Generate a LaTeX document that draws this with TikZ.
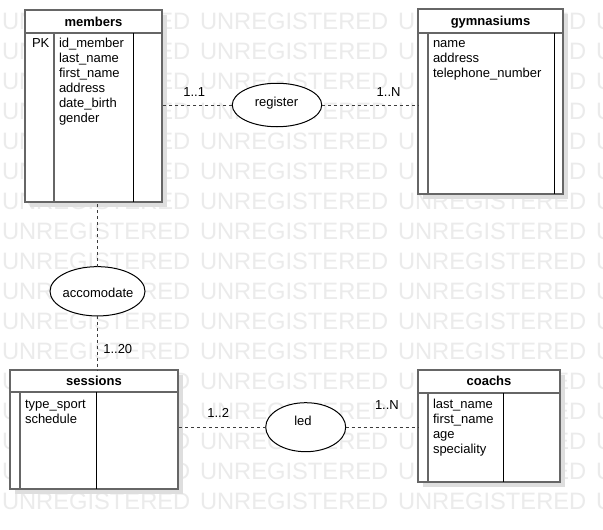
\documentclass[tikz,border=0pt]{standalone}
\usepackage{fontspec}
\setmainfont{Liberation Sans}
\usetikzlibrary{shapes.geometric,shadows}
\definecolor{wm}{RGB}{235,235,235}
\definecolor{bord}{RGB}{102,102,102}
\definecolor{shad}{RGB}{222,222,222}
\definecolor{relc}{RGB}{60,60,60}
\begin{document}
\begin{tikzpicture}[x=1pt,y=-1pt,
  every node/.style={inner sep=0pt, outer sep=0pt, font=\fontsize{13}{15}\selectfont},
  wmtext/.style={anchor=base west, text=wm, font=\fontsize{23.7}{26}\selectfont},
  entity/.style={rectangle, draw=bord, line width=2pt, fill=white, anchor=north west,
    drop shadow={shadow xshift=5pt, shadow yshift=-5pt, fill=shad, opacity=1}},
  hdr/.style={anchor=base, font=\fontsize{13}{15}\selectfont\bfseries},
  fields/.style={anchor=base west},
  sepline/.style={draw=bord, line width=2pt},
  keyline/.style={draw=bord, line width=1.5pt},
  colline/.style={draw=black, line width=1pt},
  relation/.style={ellipse, draw=black, line width=1pt, fill=white},
  rellabel/.style={anchor=base},
  card/.style={anchor=base west},
  rel/.style={draw=relc, line width=1pt, dash pattern=on 3pt off 3pt}
]
\useasboundingbox (0,0) rectangle (603,530);
\fill[white] (0,0) rectangle (603,530);

% watermark
\foreach \r in {0,...,16}{
  \foreach \c in {0,...,3}{
    \node[wmtext] (wm-\r-\c) at ({2+198*\c},{29.5+30*\r}) {UNREGISTERED};
  }
}

% members
\node[entity, minimum width=137pt, minimum height=192pt] (members) at (25,10) {};
\draw[sepline] ([yshift=-23pt]members.north west) -- ([yshift=-23pt]members.north east);
\draw[keyline] ([xshift=29pt,yshift=-23pt]members.north west) -- ([xshift=29pt]members.south west);
\draw[colline] ([xshift=108pt,yshift=-23pt]members.north west) -- ([xshift=108pt]members.south west);
\node[hdr] (membersH) at (93.5,26) {members};
\node[fields] (membersK) at (32,47.5) {PK};
\node[fields] (membersF) at (59,47.5) {\parbox[t]{5cm}{id\_member\\last\_name\\first\_name\\address\\date\_birth\\gender}};

% gymnasiums
\node[entity, minimum width=145pt, minimum height=185pt] (gym) at (418,9) {};
\draw[sepline] ([yshift=-24pt]gym.north west) -- ([yshift=-24pt]gym.north east);
\draw[keyline] ([xshift=10pt,yshift=-24pt]gym.north west) -- ([xshift=10pt]gym.south west);
\draw[colline] ([xshift=136pt,yshift=-24pt]gym.north west) -- ([xshift=136pt]gym.south west);
\node[hdr] (gymH) at (490.5,25.5) {gymnasiums};
\node[fields] (gymF) at (433,47) {\parbox[t]{5cm}{name\\address\\telephone\_number}};

% sessions
\node[entity, minimum width=168pt, minimum height=119pt] (sessions) at (10,370) {};
\draw[sepline] ([yshift=-22pt]sessions.north west) -- ([yshift=-22pt]sessions.north east);
\draw[keyline] ([xshift=10pt,yshift=-22pt]sessions.north west) -- ([xshift=10pt]sessions.south west);
\draw[colline] ([xshift=86pt,yshift=-22pt]sessions.north west) -- ([xshift=86pt]sessions.south west);
\node[hdr] (sessionsH) at (94,385) {sessions};
\node[fields] (sessionsF) at (25,408) {\parbox[t]{5cm}{type\_sport\\schedule}};

% coachs
\node[entity, minimum width=142pt, minimum height=112pt] (coachs) at (418,370) {};
\draw[sepline] ([yshift=-23pt]coachs.north west) -- ([yshift=-23pt]coachs.north east);
\draw[keyline] ([xshift=10pt,yshift=-23pt]coachs.north west) -- ([xshift=10pt]coachs.south west);
\draw[colline] ([xshift=85pt,yshift=-23pt]coachs.north west) -- ([xshift=85pt]coachs.south west);
\node[hdr] (coachsH) at (489,385) {coachs};
\node[fields] (coachsF) at (433,408) {\parbox[t]{5cm}{last\_name\\first\_name\\age\\speciality}};

% relations
\node[relation, minimum width=89.5pt, minimum height=43.5pt] (register) at (277,105) {};
\node[rellabel] (registerT) at (276.5,106) {register};
\node[relation, minimum width=95pt, minimum height=49.3pt] (accomodate) at (97.5,291.3) {};
\node[rellabel] (accomodateT) at (98,297) {accomodate};
\node[relation, minimum width=80pt, minimum height=49pt] (led) at (305.7,427.2) {};
\node[rellabel] (ledT) at (303,425) {led};

% connectors
\draw[rel] (register.west) -- (register.west -| members.east);
\draw[rel] (register.east) -- (register.east -| gym.west);
\draw[rel] (accomodate.north) -- (accomodate.north |- members.south);
\draw[rel] (accomodate.south) -- (accomodate.south |- sessions.north);
\draw[rel] (led.west) -- (led.west -| sessions.east);
\draw[rel] (led.east) -- (led.east -| coachs.west);

% cardinalities
\node[card] (c1) at (183.3,96.7) {1..1};
\node[card] (c2) at (376.7,96.7) {1..N};
\node[card] (c3) at (103.3,353) {1..20};
\node[card] (c4) at (207.3,417.3) {1..2};
\node[card] (c5) at (375,409) {1..N};
\end{tikzpicture}
\end{document}
